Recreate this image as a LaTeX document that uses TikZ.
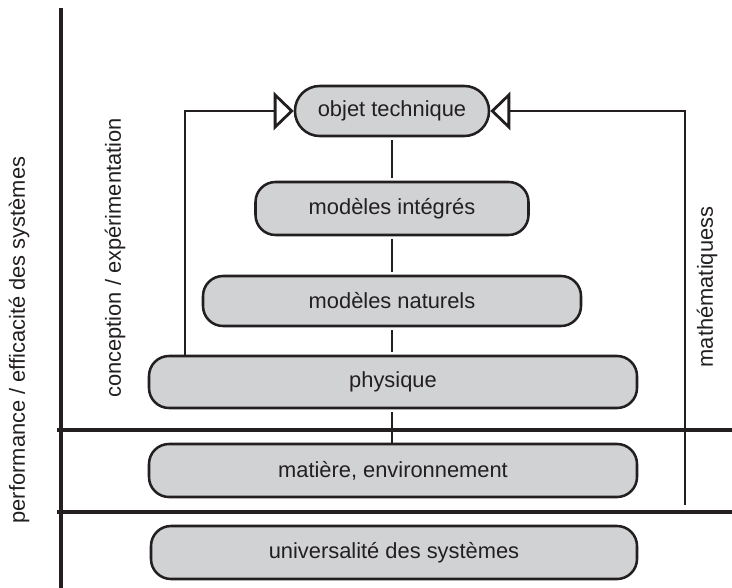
\documentclass[tikz,border=0pt]{standalone}
\usepackage{fontspec}
\setmainfont{Liberation Sans}
\usetikzlibrary{arrows.meta}
\definecolor{ink}{HTML}{231F20}
\definecolor{boxfill}{HTML}{D1D2D4}
\begin{document}
\begin{tikzpicture}[x=0.75pt,y=-0.75pt,
  font=\fontsize{16.4}{19}\selectfont,
  every node/.style={text=ink},
  layerbox/.style={draw=ink, fill=boxfill, line width=1.9pt, rounded corners=15pt, inner sep=0pt, align=center},
  axisline/.style={draw=ink, line width=2.4pt},
  bracketline/.style={draw=ink, line width=2.1pt},
  linkline/.style={draw=ink, line width=1.0pt, shorten <=2.2pt, shorten >=2.2pt},
  opentip/.style={-{Triangle[open, length=15pt, width=28.5pt, fill=white]}}]
\useasboundingbox (0,0) rectangle (732,588);

% axes
\coordinate (axtop) at (61,8);
\coordinate (axbot) at (61,588);
\coordinate (h1l) at (57,430);
\coordinate (h1r) at (732,430);
\coordinate (h2l) at (57,512);
\coordinate (h2r) at (732,512);
\draw[axisline] (axtop) -- (axbot);
\draw[axisline] (h1l) -- (h1r);
\draw[axisline] (h2l) -- (h2r);

% boxes
\node[layerbox, minimum width=145.5pt, minimum height=37.5pt, rounded corners=18.5pt] (obj) at (392,111) {objet technique};
\node[layerbox, minimum width=204.75pt, minimum height=39.75pt] (int) at (392,208.5) {modèles intégrés};
\node[layerbox, minimum width=283.5pt, minimum height=37.5pt] (nat) at (392,301) {modèles naturels};
\node[layerbox, minimum width=366pt, minimum height=39pt] (phy) at (393,382) {physique};
\node[layerbox, minimum width=366pt, minimum height=39.75pt] (mat) at (393,470.5) {matière, environnement};
\node[layerbox, minimum width=364.5pt, minimum height=39.75pt] (uni) at (394,552.5) {universalité des systèmes};

% central links
\draw[linkline] (obj.south) -- (obj.south |- int.north);
\draw[linkline] (obj.south |- int.south) -- (obj.south |- nat.north);
\draw[linkline] (obj.south |- nat.south) -- (obj.south |- phy.north);
\draw[linkline, shorten >=0pt] (obj.south |- phy.south) -- (obj.south |- mat.north);

% brackets
\coordinate (lb) at (185,356);
\coordinate (rb) at (685,505);
\draw[bracketline, opentip] (lb) |- (obj.west);
\draw[bracketline, opentip] (rb) |- (obj.east);

% side labels
\node[rotate=90] (perf) at (19,340) {performance / efficacité des systèmes};
\node[rotate=90] (conc) at (115,258) {conception / expérimentation};
\node[rotate=90] (math) at (707,287) {mathématiquess};
\end{tikzpicture}
\end{document}
